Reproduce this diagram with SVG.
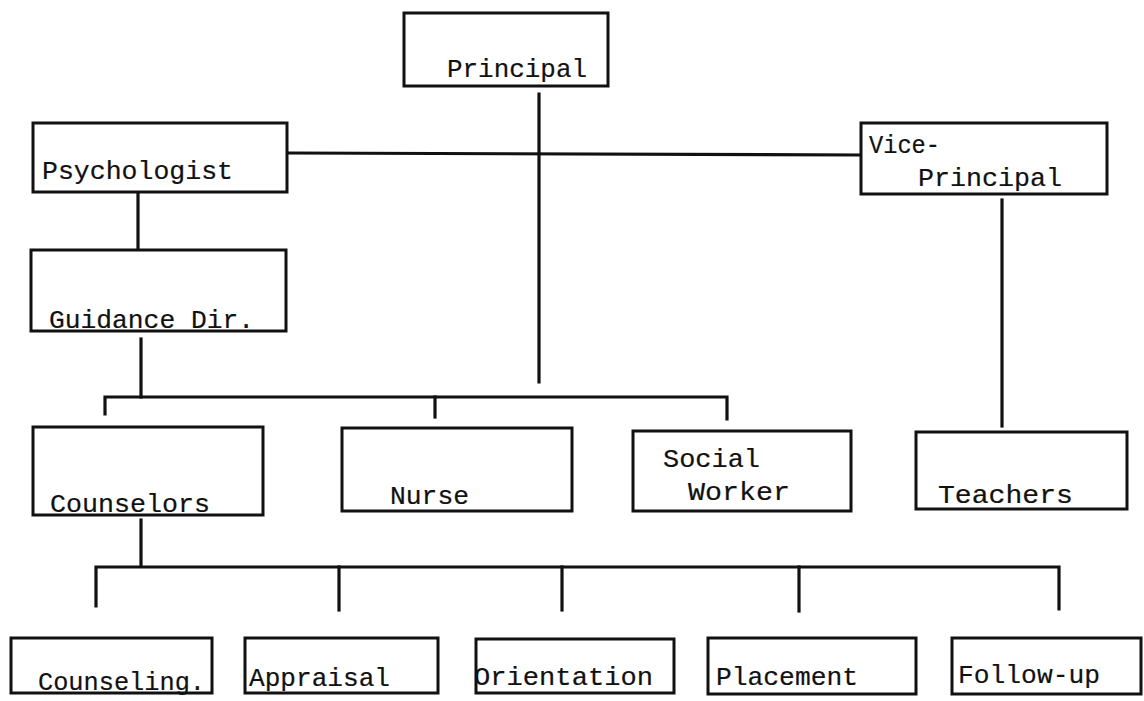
<svg xmlns="http://www.w3.org/2000/svg" width="1144" height="701" viewBox="0 0 1144 701">
<style>
.box{fill:#fff;stroke:#111;stroke-width:3}
.ln{fill:none;stroke:#111;stroke-width:3.2;stroke-linecap:square}
text{font-family:"Liberation Mono","DejaVu Sans Mono",monospace;font-size:26px;fill:#111;stroke:#111;stroke-width:0.2}
</style>
<rect width="1144" height="701" fill="#fff"/>
<g id="connectors">
<path class="ln" d="M289 153 L861 155"/>
<path class="ln" d="M539 94 V382"/>
<path class="ln" d="M138 194 V250"/>
<path class="ln" d="M141 339 V397"/>
<path class="ln" d="M105 414 V397 H727 V419"/>
<path class="ln" d="M435 397 V417"/>
<path class="ln" d="M1002 200 V426"/>
<path class="ln" d="M141 520 V566"/>
<path class="ln" d="M96 606 V567 H1059 V609"/>
<path class="ln" d="M339 567 V610"/>
<path class="ln" d="M562 567 V610"/>
<path class="ln" d="M799 567 V611"/>
</g>
<g id="principal"><rect class="box" x="404" y="13" width="204" height="73"/><text x="447" y="77" textLength="140" lengthAdjust="spacingAndGlyphs">Principal</text></g>
<g id="psychologist"><rect class="box" x="33" y="123" width="254" height="69"/><text x="42" y="179" textLength="191" lengthAdjust="spacingAndGlyphs">Psychologist</text></g>
<g id="vice-principal"><rect class="box" x="861" y="123" width="246" height="71"/><text x="869" y="153" textLength="71" lengthAdjust="spacingAndGlyphs">Vice-</text><text x="918" y="186" textLength="144" lengthAdjust="spacingAndGlyphs">Principal</text></g>
<g id="guidance"><rect class="box" x="31" y="250" width="255" height="81"/><text x="49" y="328" textLength="205" lengthAdjust="spacingAndGlyphs">Guidance Dir.</text></g>
<g id="counselors"><rect class="box" x="33" y="427" width="230" height="88"/><text x="50" y="512" textLength="160" lengthAdjust="spacingAndGlyphs">Counselors</text></g>
<g id="nurse"><rect class="box" x="342" y="428" width="230" height="83"/><text x="390" y="504" textLength="79" lengthAdjust="spacingAndGlyphs">Nurse</text></g>
<g id="social-worker"><rect class="box" x="633" y="431" width="218" height="80"/><text x="663" y="467" textLength="97" lengthAdjust="spacingAndGlyphs">Social</text><text x="688" y="500" textLength="102" lengthAdjust="spacingAndGlyphs">Worker</text></g>
<g id="teachers"><rect class="box" x="916" y="432" width="211" height="77"/><text x="938" y="503" textLength="135" lengthAdjust="spacingAndGlyphs">Teachers</text></g>
<g id="counseling"><rect class="box" x="11" y="638" width="201" height="55"/><text x="38" y="690" textLength="167" lengthAdjust="spacingAndGlyphs">Counseling.</text></g>
<g id="appraisal"><rect class="box" x="245" y="638" width="193" height="55"/><text x="249" y="686" textLength="141" lengthAdjust="spacingAndGlyphs">Appraisal</text></g>
<g id="orientation"><rect class="box" x="476" y="639" width="198" height="54"/><text x="474" y="685" textLength="179" lengthAdjust="spacingAndGlyphs">Orientation</text></g>
<g id="placement"><rect class="box" x="708" y="638" width="208" height="56"/><text x="716" y="685" textLength="142" lengthAdjust="spacingAndGlyphs">Placement</text></g>
<g id="follow-up"><rect class="box" x="952" y="638" width="189" height="56"/><text x="958" y="683" textLength="142" lengthAdjust="spacingAndGlyphs">Follow-up</text></g>
</svg>
